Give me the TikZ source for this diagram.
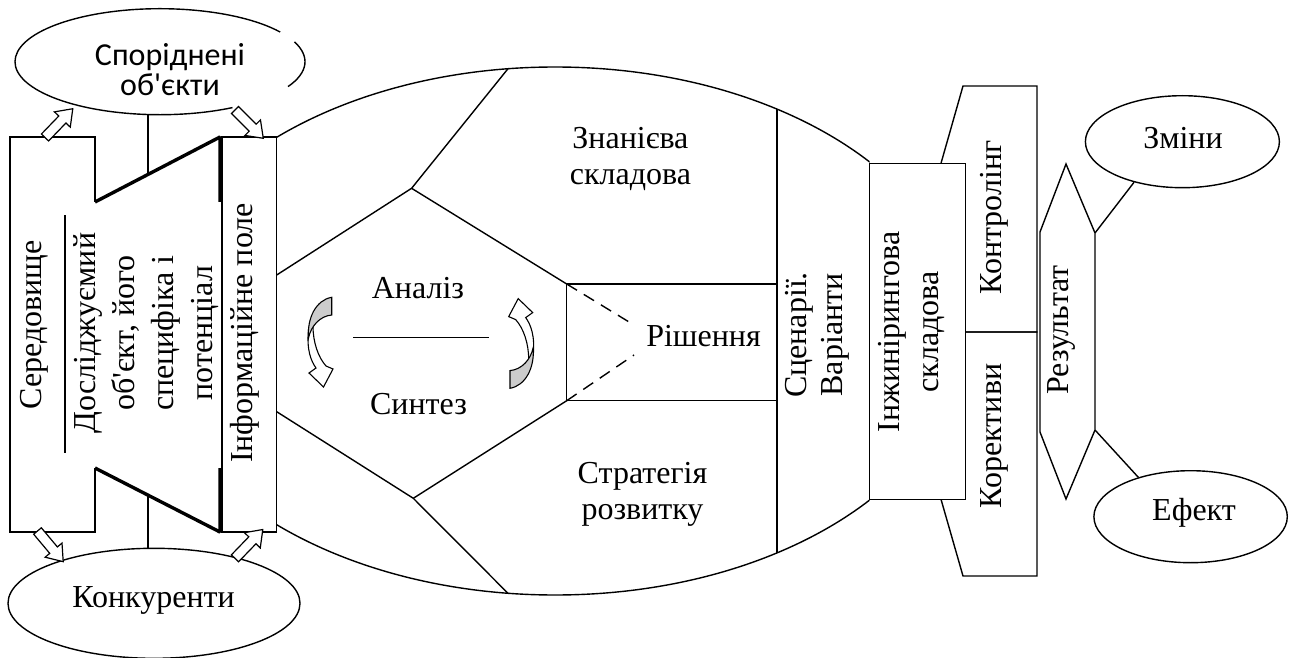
\documentclass[tikz,border=0pt]{standalone}
\usepackage{fontspec}
\setmainfont{Liberation Serif}[Ligatures=TeXOff]
\newfontfamily\calibri{Carlito}[Ligatures=TeXOff]
\usetikzlibrary{shapes.geometric}
\begin{document}
\begin{tikzpicture}[x=1pt,y=-1pt,
  line width=1.4pt, line join=miter,
  fnt/.style={font=\fontsize{32}{37}\selectfont},
  thk/.style={line width=3.4pt, line join=bevel},
  ell/.style={draw, ellipse, inner sep=0pt},
  lbl/.style={fnt, inner sep=0pt},
  vlbl/.style={fnt, inner sep=0pt, rotate=90, align=center},
  hollowarrow/.pic={\draw[fill=white, line width=1.2pt] (0,-5) -- (25,-5) -- (25,-11) -- (40,0) -- (25,11) -- (25,5) -- (0,5) -- cycle;},
  curvedarrow/.pic={
    \draw[fill=white, line width=1.1pt] (-12,-12) .. controls (-14,8) and (-9.5,19) .. (-4.5,26) -- (-11.5,31) -- (3,45) -- (12.5,27) -- (5.5,24) .. controls (-2.5,15) and (-7.5,0) .. (-7.5,-16) -- cycle;
    \draw[fill=black!20, line width=1.1pt] (11.2,-44.7) .. controls (-4.5,-42) and (-13.5,-24) .. (-12,-4) .. controls (-9.5,-16) and (-0.5,-26) .. (11.2,-27) -- cycle;
  }
]
\useasboundingbox (0,0) rectangle (1294,658);

% ---------- left ellipses ----------
\node[ellipse, inner sep=0pt, minimum width=290pt, minimum height=106pt] (sporid) at (160,61.7) {};
\draw ([shift={(34:145pt and 53pt)}]sporid.center) arc[start angle=34, end angle=300, x radius=145pt, y radius=53pt];
\draw ([shift={(-28:145pt and 53pt)}]sporid.center) arc[start angle=-28, end angle=22, x radius=145pt, y radius=53pt];
\node[ell, minimum width=292pt, minimum height=110pt] (konk) at (154,603.3) {};

% ---------- left block ----------
\draw (95,202) -- (95,137) -- (10,137) -- (10,532) -- (95,532) -- (95,468);
\draw (222,137) rectangle (276.7,532);
\draw[thk] (95,202) -- (220,137) -- (220,202);
\draw[thk] (95,468) -- (220,532) -- (220,468);
\draw[line width=2.2pt] (65,215) -- (65,453);

\coordinate (sporidb) at (148,114.5);
\coordinate (dtop) at (148,174.4);
\coordinate (dbot) at (148,495);
\coordinate (konkt0) at (148,548.3);
\draw (sporidb) -- (dtop);
\draw (dbot) -- (konkt0);

\pic[rotate=46] at (45,137.5) {hollowarrow};
\pic[rotate=-45] at (235,110) {hollowarrow};
\pic[rotate=-50] at (37.5,531) {hollowarrow};
\pic[rotate=46] at (235,558.3) {hollowarrow};

% ---------- lens ----------
\begin{scope}
  \clip (276.5,0) rectangle (869.6,658);
  \draw (555,331) ellipse [x radius=409.6pt, y radius=264pt];
\end{scope}
\coordinate (p1) at (508,68.7);
\coordinate (A) at (411.6,188.3);
\coordinate (p2) at (276.7,275);
\coordinate (r1) at (566.7,284);
\coordinate (r2) at (566.7,400.7);
\coordinate (B) at (413.3,498.3);
\coordinate (p3) at (276.7,411.7);
\coordinate (p4) at (508,593.3);
\coordinate (vt) at (777,109.1);
\coordinate (vb) at (777,552.9);
\draw (p1) -- (A) -- (p2);
\draw (A) -- (r1);
\draw (p3) -- (B) -- (p4);
\draw (B) -- (r2);
\draw (r1) rectangle (777,400.7);
\draw (vt) -- (vb);
\draw[dash pattern=on 12pt off 8pt] (r1) -- (634,325);
\draw[dash pattern=on 12pt off 8pt] (r2) -- (634,355);
\coordinate (sepl) at (353,337.3);
\coordinate (sepr) at (489,337.3);
\draw (sepl) -- (sepr);

\pic at (320.5,342) {curvedarrow};
\pic[rotate=180] at (521.2,343.6) {curvedarrow};

% ---------- right side ----------
\draw (869.6,163.3) rectangle (965.5,499.3);
\draw (941,163.3) -- (963,86) -- (1037,86) -- (1037,332) -- (965.5,332);
\draw (965.5,332) -- (1037,332) -- (1037,576) -- (963,576) -- (941,499.3);
\coordinate (restr) at (1095,233);
\coordinate (resbr) at (1095,430);
\draw (1040,232) -- (1066,164) -- (restr) -- (resbr) -- (1066,499) -- (1040,432) -- cycle;

\node[ell, minimum width=194pt, minimum height=92pt] (zminy) at (1182.4,141.7) {};
\node[ell, minimum width=193.4pt, minimum height=92pt] (efekt) at (1190.6,516.7) {};
\draw (restr) -- (zminy.220);
\draw (resbr) -- (efekt.143);

% ---------- texts ----------
\node[lbl, font=\calibri\fontsize{32}{30}\selectfont, align=center] (sporidt) at (170,70) {Споріднені\\об'єкти};
\node[lbl] (konkt) at (153.5,600) {Конкуренти};
\node[lbl] (zminyt) at (1183,138.5) {Зміни};
\node[lbl] (efektt) at (1194,512.5) {Ефект};
\node[lbl] (analiz) at (418,288) {Аналіз};
\node[lbl] (syntez) at (418.5,404.4) {Синтез};
\node[lbl] (rish) at (703.5,336) {Рішення};
\node[lbl, align=center, font=\fontsize{32}{36}\selectfont] (znan) at (630.4,158.7) {Знанієва\\складова};
\node[lbl, align=center, font=\fontsize{32}{36.7}\selectfont] (strat) at (642.5,494.5) {Стратегія\\розвитку};

\node[vlbl] (sered) at (34.5,325) {Середовище};
\node[vlbl, font=\fontsize{32}{39}\selectfont] (dosl) at (146,333) {Досліджуємий\\об'єкт, його\\специфіка і\\потенціал};
\node[vlbl] (inform) at (245,333) {Інформаційне поле};
\node[vlbl, font=\fontsize{32}{36}\selectfont] (scen) at (817.4,335) {Сценарії.\\Варіанти};
\node[vlbl, font=\fontsize{32}{39}\selectfont] (inzh) at (911.5,332) {Інжинірингова\\складова};
\node[vlbl] (kontr) at (994.6,217.5) {Контролінг};
\node[vlbl] (korek) at (994.6,436) {Корективи};
\node[vlbl] (rez) at (1061.4,330) {Результат};
\end{tikzpicture}
\end{document}
